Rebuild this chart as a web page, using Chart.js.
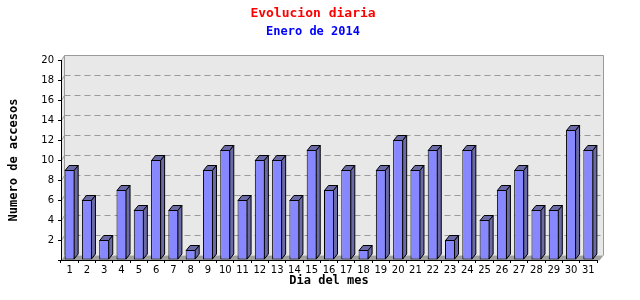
<!DOCTYPE html>
<html>
<head>
<meta charset="utf-8">
<script src="https://cdn.jsdelivr.net/npm/chart.js@4.4.1/dist/chart.umd.min.js"></script>
<style>
  html, body { margin: 0; padding: 0; background: #ffffff; }
  #wrap { width: 640px; height: 300px; }
</style>
</head>
<body>
<div id="wrap"><canvas id="c" width="640" height="300"></canvas></div>
<script>
// ---- data ----
const days = ['1','2','3','4','5','6','7','8','9','10','11','12','13','14','15','16',
              '17','18','19','20','21','22','23','24','25','26','27','28','29','30','31'];
const visits = [9, 6, 2, 7, 5, 10, 5, 1, 9, 11, 6, 10, 10, 6, 11, 7,
                9, 1, 9, 12, 9, 11, 2, 11, 4, 7, 9, 5, 5, 13, 11];
const yMin = 0;
const yMax = 20;
const yStep = 2;
const titleText = 'Evolucion diaria';
const subtitleText = 'Enero de 2014';
const xTitle = 'Dia del mes';
const yTitle = 'Numero de accesos';

// ---- styling ----
const DX = 4, DY = -5;
const FRONT = '#8787ff';
const SIDE = '#6a6aa6';
const BACK = '#e8e8e8';
const FLOOR = '#a0a0a0';
const GRIDC = '#9a9a9a';
const MONO = '"DejaVu Sans Mono", "Liberation Mono", monospace';
const SANS = '"DejaVu Sans", sans-serif';

const backdrop = {
  id: 'backdrop',
  beforeDraw(chart) {
    const { ctx, chartArea: a, scales: { y } } = chart;
    const L = Math.round(a.left) + 0.5;
    const R = Math.round(a.right) + 0.5;
    const T = Math.round(y.getPixelForValue(yMax)) + 0.5;
    const B = Math.round(y.getPixelForValue(yMin)) + 0.5;
    const BL = L + 3, BR = R + 6;
    ctx.save();
    // back plane
    ctx.fillStyle = BACK;
    ctx.fillRect(BL, T + DY, BR - BL, B - T);
    // left wall
    ctx.beginPath();
    ctx.moveTo(L, T); ctx.lineTo(BL, T + DY); ctx.lineTo(BL, B + DY); ctx.lineTo(L, B);
    ctx.closePath(); ctx.fill();
    // floor
    ctx.fillStyle = FLOOR;
    ctx.beginPath();
    ctx.moveTo(L, B); ctx.lineTo(BL, B + DY); ctx.lineTo(BR, B + DY); ctx.lineTo(R + 2, B);
    ctx.closePath(); ctx.fill();
    // grid lines
    ctx.lineWidth = 1;
    ctx.strokeStyle = GRIDC;
    for (let v = yMin + yStep; v < yMax; v += yStep) {
      const yy = Math.round(y.getPixelForValue(v)) + 0.5;
      ctx.setLineDash([]);
      ctx.beginPath(); ctx.moveTo(L, yy); ctx.lineTo(BL, yy + DY); ctx.stroke();
      ctx.setLineDash([6, 4]);
      ctx.beginPath(); ctx.moveTo(BL, yy + DY); ctx.lineTo(BR, yy + DY); ctx.stroke();
    }
    ctx.setLineDash([]);
    // back plane border
    ctx.beginPath();
    ctx.moveTo(L, T); ctx.lineTo(BL, T + DY); ctx.lineTo(BR, T + DY); ctx.lineTo(BR, B + DY);
    ctx.moveTo(BL, T + DY); ctx.lineTo(BL, B + DY);
    ctx.stroke();
    ctx.restore();
  }
};

const bars3d = {
  id: 'bars3d',
  afterDatasetsDraw(chart) {
    const { ctx } = chart;
    const meta = chart.getDatasetMeta(0);
    ctx.save();
    ctx.lineWidth = 1;
    ctx.strokeStyle = '#000000';
    ctx.fillStyle = SIDE;
    meta.data.forEach(bar => {
      const p = bar.getProps(['x', 'y', 'base', 'width'], true);
      const l = p.x - p.width / 2 + 0.5;
      const r = p.x + p.width / 2 - 0.5;
      const t = p.y + 0.5;
      const b = p.base - 0.5;
      // top face
      ctx.beginPath();
      ctx.moveTo(l, t); ctx.lineTo(l + DX, t + DY); ctx.lineTo(r + DX, t + DY); ctx.lineTo(r, t);
      ctx.closePath(); ctx.fill(); ctx.stroke();
      // side face
      ctx.beginPath();
      ctx.moveTo(r, t); ctx.lineTo(r + DX, t + DY); ctx.lineTo(r + DX, b + DY); ctx.lineTo(r, b);
      ctx.closePath(); ctx.fill(); ctx.stroke();
    });
    ctx.restore();
  }
};

new Chart(document.getElementById('c'), {
  type: 'bar',
  data: {
    labels: days,
    datasets: [{
      data: visits,
      backgroundColor: FRONT,
      borderColor: '#000000',
      borderWidth: 1,
      borderSkipped: false,
      categoryPercentage: 1.0,
      barPercentage: 0.58
    }]
  },
  options: {
    responsive: false,
    animation: false,
    devicePixelRatio: 1,
    layout: { padding: { left: 0, right: 14, top: 0, bottom: 0 } },
    plugins: {
      legend: { display: false },
      tooltip: { enabled: false },
      title: {
        display: true, text: titleText, color: '#ff0000',
        font: { family: MONO, size: 13, weight: 'bold' },
        padding: { top: 6, bottom: 2 }
      },
      subtitle: {
        display: true, text: subtitleText, color: '#0000ff',
        font: { family: MONO, size: 12, weight: 'bold' },
        padding: { top: 1, bottom: 21 }
      }
    },
    scales: {
      x: {
        type: 'category',
        offset: true,
        grid: { display: true, drawOnChartArea: false, drawTicks: true, tickLength: 3, color: '#000000', offset: true },
        border: { display: true, color: '#000000', width: 1 },
        ticks: { color: '#000000', font: { family: SANS, size: 10 }, padding: 1, maxRotation: 0, autoSkip: false },
        title: { display: true, text: xTitle, color: '#000000', font: { family: MONO, size: 12, weight: 'bold' }, padding: { top: 0, bottom: 12 } },
        afterFit(s) { s.height = 40; }
      },
      y: {
        type: 'linear',
        position: 'left',
        min: yMin, max: yMax,
        grid: { display: true, drawOnChartArea: false, drawTicks: true, tickLength: 3, color: '#000000' },
        border: { display: true, color: '#000000', width: 1 },
        ticks: {
          stepSize: yStep, color: '#000000', font: { family: SANS, size: 10 }, padding: 4,
          callback: v => (v === 0 ? '' : String(v))
        },
        title: { display: true, text: yTitle, color: '#000000', font: { family: MONO, size: 12, weight: 'bold' }, padding: { top: 7, bottom: 0 } },
        afterFit(s) { s.width = 61; }
      },
      yR: {
        type: 'linear',
        position: 'right',
        display: true,
        grid: { display: false },
        border: { display: false },
        ticks: { display: false },
        afterFit(s) { s.width = 29; }
      }
    }
  },
  plugins: [backdrop, bars3d]
});
</script>
</body>
</html>
